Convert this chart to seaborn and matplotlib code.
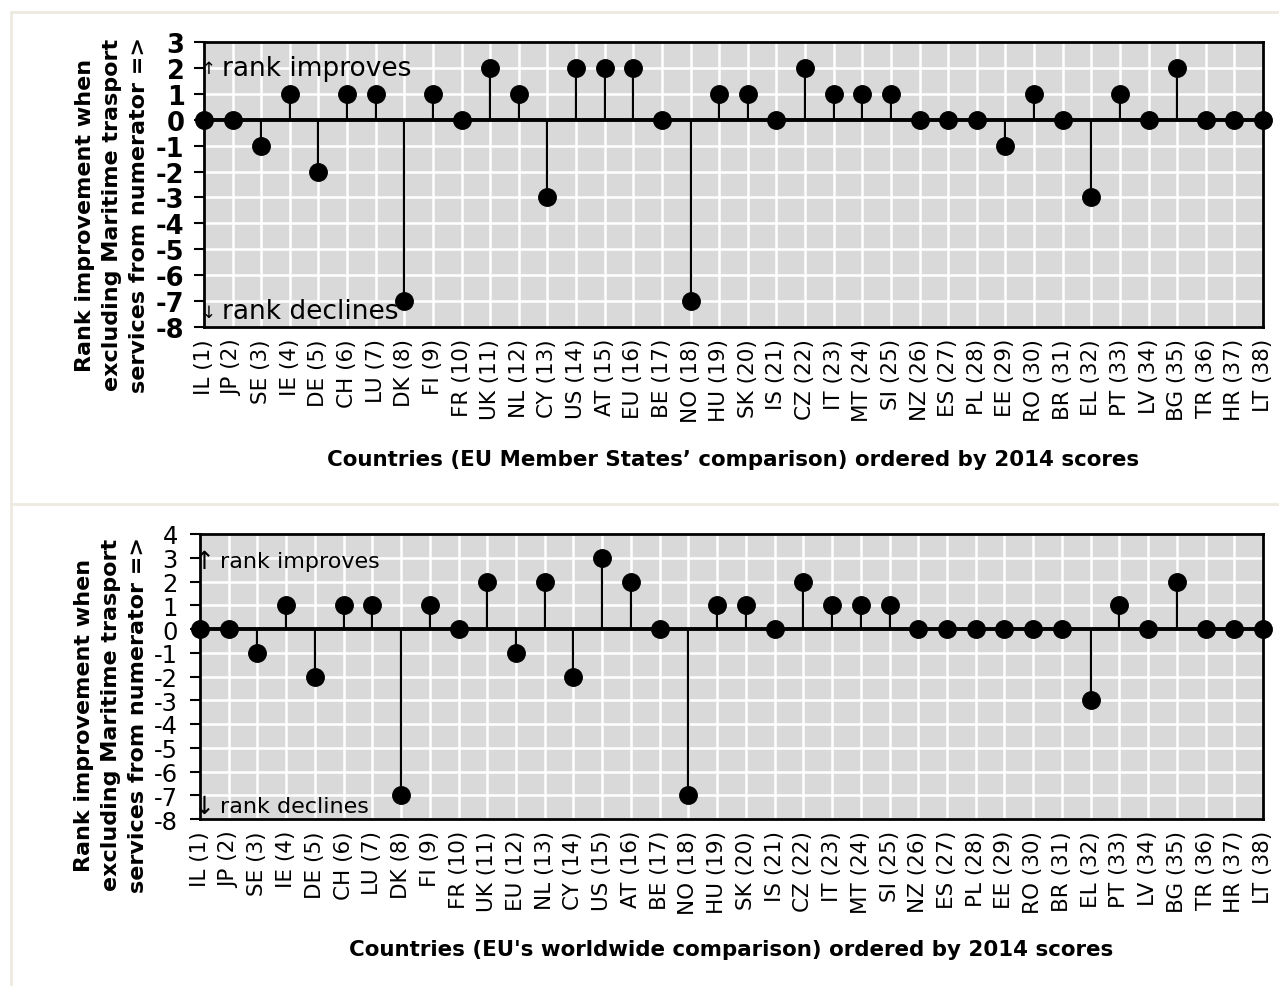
import numpy as np
import pandas as pd
import matplotlib.pyplot as plt
from matplotlib.lines import Line2D
import seaborn as sns

# EU Member States' comparison
countries_ms = ['IL (1)', 'JP (2)', 'SE (3)', 'IE (4)', 'DE (5)', 'CH (6)', 'LU (7)', 'DK (8)',
                'FI (9)', 'FR (10)', 'UK (11)', 'NL (12)', 'CY (13)', 'US (14)', 'AT (15)',
                'EU (16)', 'BE (17)', 'NO (18)', 'HU (19)', 'SK (20)', 'IS (21)', 'CZ (22)',
                'IT (23)', 'MT (24)', 'SI (25)', 'NZ (26)', 'ES (27)', 'PL (28)', 'EE (29)',
                'RO (30)', 'BR (31)', 'EL (32)', 'PT (33)', 'LV (34)', 'BG (35)', 'TR (36)',
                'HR (37)', 'LT (38)']
change_ms = [0, 0, -1, 1, -2, 1, 1, -7, 1, 0, 2, 1, -3, 2, 2, 2, 0, -7, 1, 1, 0, 2,
             1, 1, 1, 0, 0, 0, -1, 1, 0, -3, 1, 0, 2, 0, 0, 0]

# EU's worldwide comparison
countries_ww = ['IL (1)', 'JP (2)', 'SE (3)', 'IE (4)', 'DE (5)', 'CH (6)', 'LU (7)', 'DK (8)',
                'FI (9)', 'FR (10)', 'UK (11)', 'EU (12)', 'NL (13)', 'CY (14)', 'US (15)',
                'AT (16)', 'BE (17)', 'NO (18)', 'HU (19)', 'SK (20)', 'IS (21)', 'CZ (22)',
                'IT (23)', 'MT (24)', 'SI (25)', 'NZ (26)', 'ES (27)', 'PL (28)', 'EE (29)',
                'RO (30)', 'BR (31)', 'EL (32)', 'PT (33)', 'LV (34)', 'BG (35)', 'TR (36)',
                'HR (37)', 'LT (38)']
change_ww = [0, 0, -1, 1, -2, 1, 1, -7, 1, 0, 2, -1, 2, -2, 3, 2, 0, -7, 1, 1, 0, 2,
             1, 1, 1, 0, 0, 0, 0, 0, 0, -3, 1, 0, 2, 0, 0, 0]

ylabel = "Rank improvement when\nexcluding Maritime trasport\nservices from numerator =>"

sns.set_style("whitegrid", {"axes.facecolor": "#D9D9D9", "grid.color": "white",
                            "axes.edgecolor": "black"})
plt.rcParams['font.family'] = ['DejaVu Sans']
plt.rcParams.update({'text.color': 'black', 'axes.labelcolor': 'black',
                     'xtick.color': 'black', 'ytick.color': 'black'})

fig = plt.figure(figsize=(12.79, 9.87), dpi=100)

# light panel frames
frame_col = '#ECEAE0'
fig.add_artist(Line2D([11/1279, 1], [1 - 13/987] * 2, color=frame_col, lw=2))
fig.add_artist(Line2D([11/1279, 1], [1 - 505/987] * 2, color=frame_col, lw=2))
fig.add_artist(Line2D([11/1279] * 2, [0, 1 - 13/987], color=frame_col, lw=2))

ax1 = fig.add_axes([204/1279, 1 - 328/987, 1059/1279, 285/987])
ax2 = fig.add_axes([200/1279, 1 - 820/987, 1063/1279, 285/987])


def lollipop(ax, labels, values, ymin, ymax, bold_ticks, ytick_size, tick_pad, note_size,
             arrow_size, text_x, y_up, y_down, xlabel, labelpad):
    df = pd.DataFrame({"country": labels, "change": values})
    x = np.arange(len(df))
    ax.vlines(x, 0, df["change"], color='black', lw=1.6, zorder=3)
    ax.axhline(0, color='black', lw=2.8, zorder=3)
    sns.scatterplot(data=df, x="country", y="change", ax=ax, s=185, color='black',
                    linewidth=0, zorder=5, clip_on=False, legend=False)
    ax.set_xlim(0, len(df) - 1)
    ax.set_ylim(ymin, ymax)
    ax.set_xticks(x)
    ax.set_xticklabels(df["country"], rotation=90)
    ax.set_yticks(range(ymin, ymax + 1))
    ax.set_yticklabels([str(v) for v in range(ymin, ymax + 1)])
    ax.grid(True, color='white', lw=1.8)
    ax.tick_params(axis='y', left=True, length=7, width=1.5, color='black',
                   pad=tick_pad, labelsize=ytick_size)
    ax.tick_params(axis='x', bottom=False, length=0, pad=8, labelsize=15.5)
    if bold_ticks:
        for lbl in ax.get_yticklabels():
            lbl.set_fontweight('bold')
    for sp in ax.spines.values():
        sp.set_color('black')
        sp.set_linewidth(2)
    ax.text(0.17, y_up, "\u2191", fontsize=arrow_size, va='center', ha='center', zorder=6)
    ax.text(text_x, y_up, "rank improves", fontsize=note_size, va='center', ha='left')
    ax.text(0.17, y_down, "\u2193", fontsize=arrow_size, va='center', ha='center', zorder=6)
    ax.text(text_x, y_down, "rank declines", fontsize=note_size, va='center', ha='left')
    ax.set_xlabel(xlabel, fontsize=15.4, fontweight='bold', labelpad=labelpad)
    ax.set_ylabel(ylabel, fontsize=16, fontweight='bold', linespacing=1.45)


lollipop(ax1, countries_ms, change_ms, -8, 3, True, 18.5, 7, 19, 12, 0.62, 2.0, -7.4,
         "Countries (EU Member States\u2019 comparison) ordered by 2014 scores", 19)
lollipop(ax2, countries_ww, change_ww, -8, 4, False, 17.5, 9, 16, 18, 0.68, 2.85, -7.45,
         "Countries (EU's worldwide comparison) ordered by 2014 scores", 18)

ax1.yaxis.set_label_coords(-0.052, 0.396)
ax2.yaxis.set_label_coords(-0.049, 0.368)

fig.savefig("out.png", dpi=100)
